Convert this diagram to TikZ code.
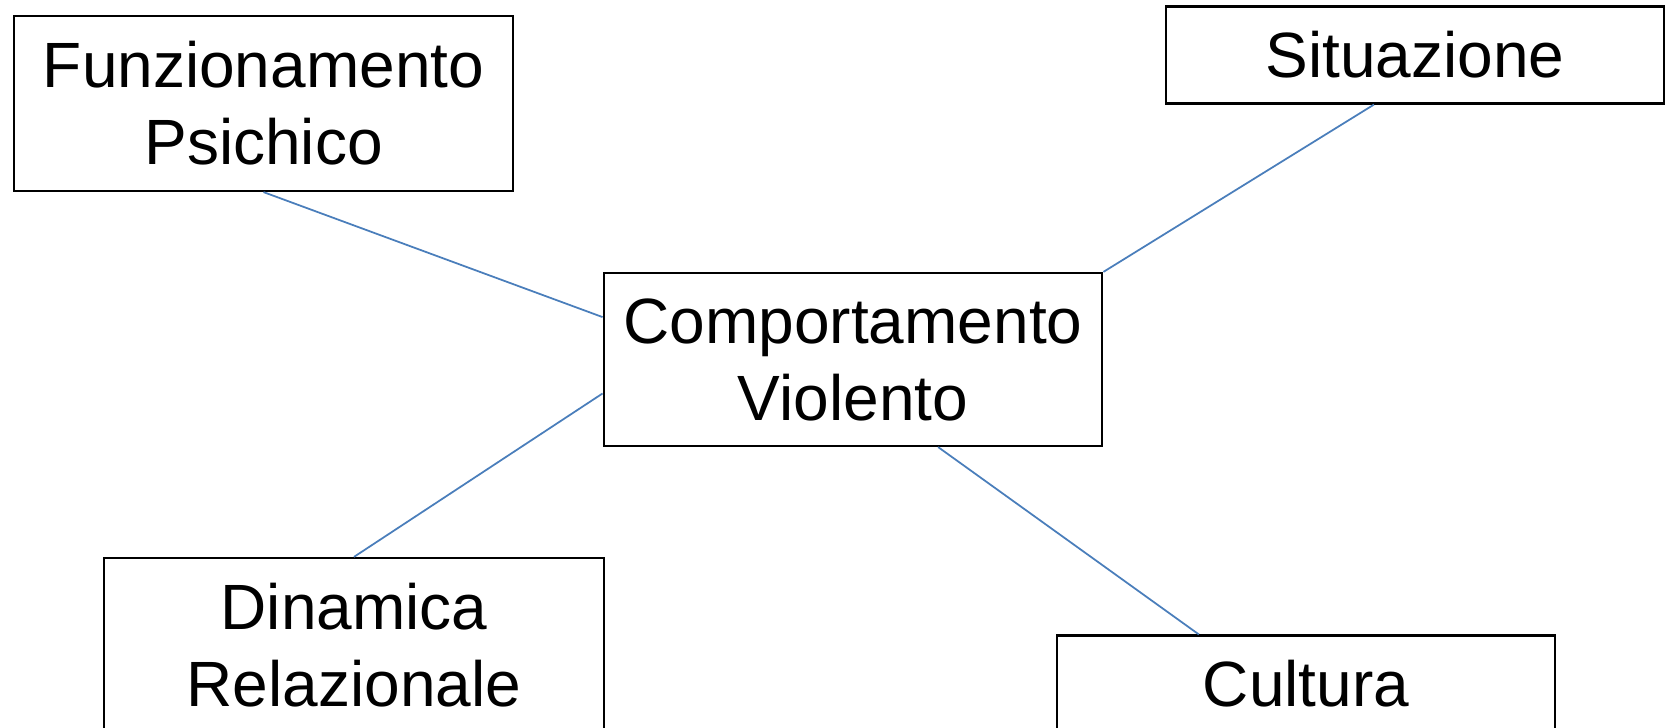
\documentclass[tikz,border=0pt]{standalone}
\usepackage{fontspec}
\setmainfont{Liberation Sans}
\usetikzlibrary{calc}
\definecolor{linkblue}{HTML}{4A7EBB}
\tikzset{
  box/.style={draw=black, line width=0.6pt, rectangle, inner sep=0pt, align=center,
    font=\fontsize{18.2pt}{21.9pt}\selectfont, fill=white},
  link/.style={draw=linkblue, line width=0.5pt}
}
\begin{document}
\begin{tikzpicture}[x=0.01cm, y=-0.01cm]
\useasboundingbox (0,0) rectangle (1666,728);
\clip (0,0) rectangle (1666,728);
\node[box, minimum width=4.99cm, minimum height=1.75cm] (F) at (263.5,103.5) {Funzionamento\\Psichico};
\node[box, minimum width=4.98cm, minimum height=0.97cm] (S) at (1415,55) {Situazione};
\node[box, minimum width=4.985cm, minimum height=1.73cm] (C) at (853,359.5) {Comportamento\\Violento};
\node[box, minimum width=4.995cm, minimum height=1.75cm] (D) at (354,645.5) {Dinamica\\Relazionale};
\node[box, minimum width=4.985cm, minimum height=0.97cm] (Cu) at (1306,684) {Cultura};
\draw[link] (F.south) -- ($(C.north west)!0.258!(C.south west)$);
\draw[link] (C.north east) -- ($(S.south west)!0.418!(S.south east)$);
\draw[link] ($(C.north west)!0.694!(C.south west)$) -- (D.north);
\draw[link] ($(C.south west)!0.67!(C.south east)$) -- ($(Cu.north west)!0.286!(Cu.north east)$);
\end{tikzpicture}
\end{document}
